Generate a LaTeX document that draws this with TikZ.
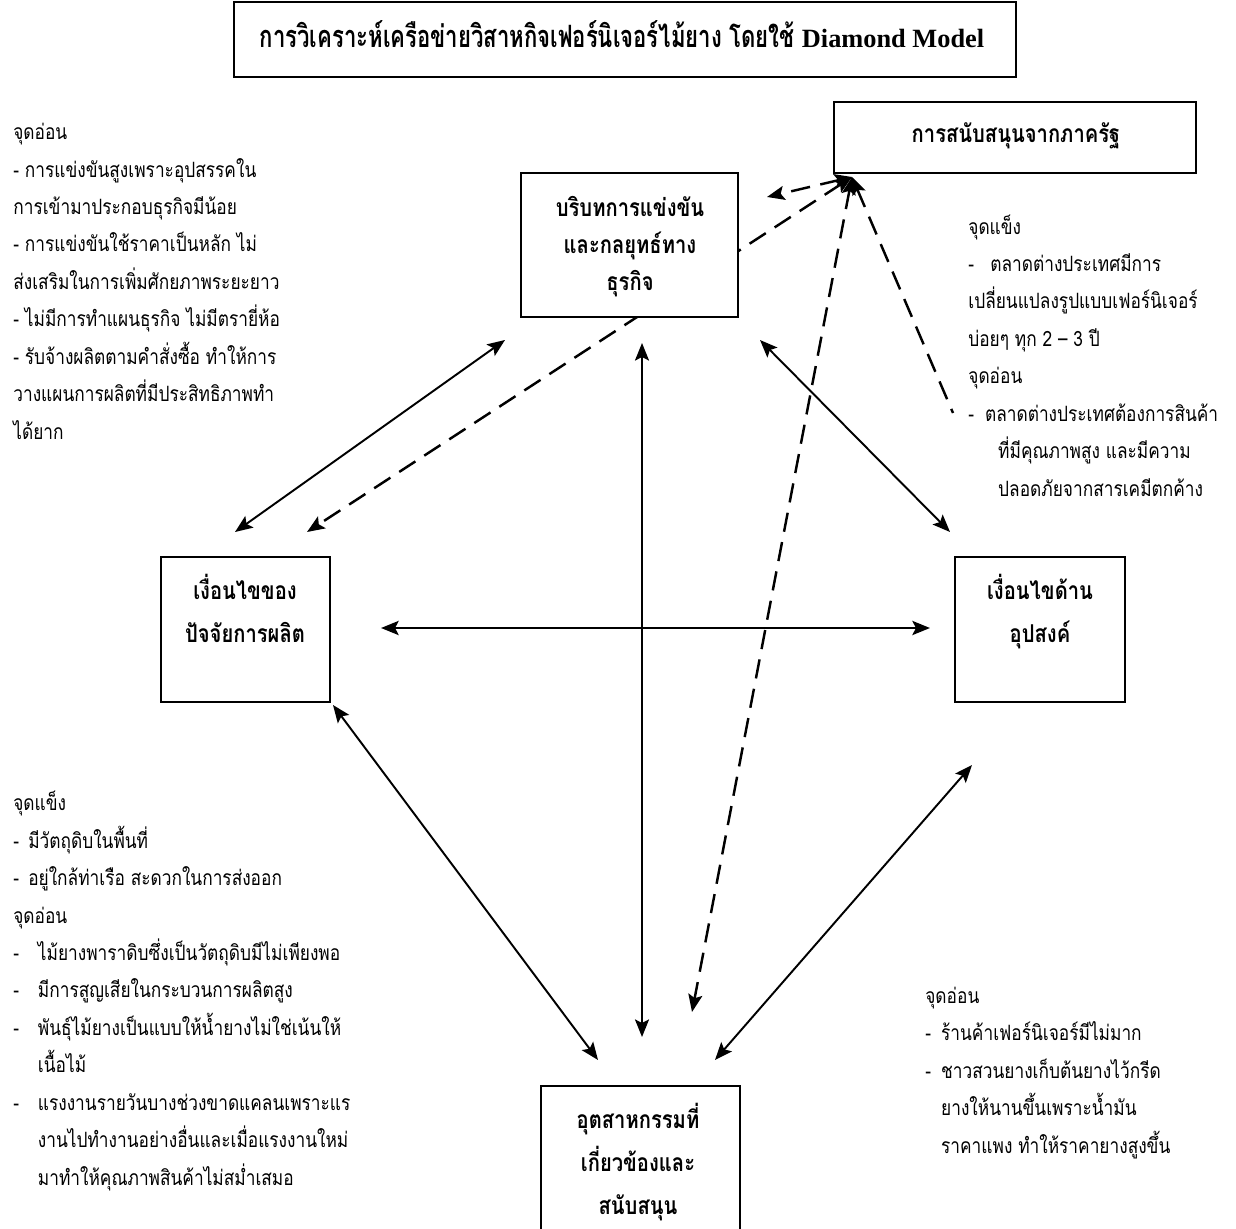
\documentclass[tikz,border=0pt]{standalone}
\usepackage{fontspec}
\newfontfamily\thai[Script=Thai,FakeStretch=0.82]{Loma}
\newfontfamily\thaiT[Script=Thai,FakeStretch=0.72]{Loma}
\newfontfamily\tms{Liberation Serif}
\usetikzlibrary{arrows.meta,fit,backgrounds}
\tikzset{
  box/.style={draw, line width=1.1pt, fill=white, inner sep=0pt},
  lbl/.style={font={\thai\bfseries\fontsize{14}{24.4}\selectfont\lineskiplimit=-40pt}, align=center, inner sep=0pt, anchor=base},
  body/.style={font={\thai\fontsize{12}{21.3}\selectfont\lineskiplimit=-40pt}, align=left, inner sep=0pt, anchor=base west},
  hd/.tip={Stealth[length=10pt,width=8pt,inset=2pt]},
  conn/.style={line width=1.1pt, hd-hd},
  dconn/.style={line width=1.4pt, dash pattern=on 11pt off 6pt},
}
\begin{document}
\begin{tikzpicture}[x=0.02cm,y=-0.02cm]
\useasboundingbox (0,0) rectangle (1236,1229);
% ---------- boxes (multi-line texts are placed by the baseline of their last line)
\node[box, fit={(234,2)(1016,77)}] (title) {};
\node[lbl, font={\thaiT\bfseries\fontsize{17.5}{20}\selectfont}] (titleT) at (622,48) {การวิเคราะห์เครือข่ายวิสาหกิจเฟอร์นิเจอร์ไม้ยาง โดยใช้ {\tms\bfseries\fontsize{15}{18}\selectfont Diamond Model}};

\node[box, fit={(834,102)(1196,173)}] (gov) {};
\node[lbl] (govT) at (1016,143) {การสนับสนุนจากภาครัฐ};

\node[box, fit={(521,173)(738,317)}] (comp) {};
\node[lbl, font={\thai\bfseries\fontsize{14}{21.3}\selectfont\lineskiplimit=-40pt}] (compT) at (630,291) {บริบทการแข่งขัน\\และกลยุทธ์ทาง\\ธุรกิจ};

\node[box, fit={(161,557)(330,702)}] (factor) {};
\node[lbl] (factorT) at (245,642) {เงื่อนไขของ\\ปัจจัยการผลิต};

\node[box, fit={(955,557)(1125,702)}] (demand) {};
\node[lbl] (demandT) at (1040,642) {เงื่อนไขด้าน\\อุปสงค์};

\draw[line width=1.1pt] (541,1240) -- (541,1086) -- (740,1086) -- (740,1240);
\coordinate (support) at (640,1086);
\node[lbl] (supportT) at (638,1214) {อุตสาหกรรมที่\\เกี่ยวข้องและ\\สนับสนุน};

% ---------- notes
\node[body] (noteTL) at (13,439) {จุดอ่อน\\
- การแข่งขันสูงเพราะอุปสรรคใน\\
การเข้ามาประกอบธุรกิจมีน้อย\\
- การแข่งขันใช้ราคาเป็นหลัก ไม่\\
ส่งเสริมในการเพิ่มศักยภาพระยะยาว\\
- ไม่มีการทำแผนธุรกิจ ไม่มีตรายี่ห้อ\\
- รับจ้างผลิตตามคำสั่งซื้อ ทำให้การ\\
วางแผนการผลิตที่มีประสิทธิภาพทำ\\
ได้ยาก};

\node[body] (noteTR) at (968,496) {จุดแข็ง\\
\makebox[12.5pt][l]{-}ตลาดต่างประเทศมีการ\\
เปลี่ยนแปลงรูปแบบเฟอร์นิเจอร์\\
บ่อยๆ ทุก 2 – 3 ปี\\
จุดอ่อน\\
\makebox[9.5pt][l]{-}ตลาดต่างประเทศต้องการสินค้า\\
\hspace*{17pt}ที่มีคุณภาพสูง และมีความ\\
\hspace*{17pt}ปลอดภัยจากสารเคมีตกค้าง};

\node[body] (noteBL) at (13,1185) {จุดแข็ง\\
\makebox[8.5pt][l]{-}มีวัตถุดิบในพื้นที่\\
\makebox[8.5pt][l]{-}อยู่ใกล้ท่าเรือ สะดวกในการส่งออก\\
จุดอ่อน\\
\makebox[14pt][l]{-}ไม้ยางพาราดิบซึ่งเป็นวัตถุดิบมีไม่เพียงพอ\\
\makebox[14pt][l]{-}มีการสูญเสียในกระบวนการผลิตสูง\\
\makebox[14pt][l]{-}พันธุ์ไม้ยางเป็นแบบให้น้ำยางไม่ใช่เน้นให้\\
\hspace*{14pt}เนื้อไม้\\
\makebox[14pt][l]{-}แรงงานรายวันบางช่วงขาดแคลนเพราะแร\\
\hspace*{14pt}งานไปทำงานอย่างอื่นและเมื่อแรงงานใหม่\\
\hspace*{14pt}มาทำให้คุณภาพสินค้าไม่สม่ำเสมอ};

\node[body] (noteBR) at (925,1153) {จุดอ่อน\\
\makebox[9pt][l]{-}ร้านค้าเฟอร์นิเจอร์มีไม่มาก\\
\makebox[9pt][l]{-}ชาวสวนยางเก็บต้นยางไว้กรีด\\
\hspace*{9pt}ยางให้นานขึ้นเพราะน้ำมัน\\
\hspace*{9pt}ราคาแพง ทำให้ราคายางสูงขึ้น};

% ---------- connector end points
\coordinate (hub) at (852,177);
\coordinate (cL) at (505,340);
\coordinate (cR) at (760,340);
\coordinate (cB) at (642,343);
\coordinate (cG) at (767,197);
\coordinate (fT) at (235,532);
\coordinate (fD) at (307,532);
\coordinate (fR) at (381,628);
\coordinate (fB) at (333,705);
\coordinate (dT) at (950,532);
\coordinate (dL) at (930,628);
\coordinate (dB) at (972,765);
\coordinate (sL) at (598,1060);
\coordinate (sT) at (642,1037);
\coordinate (sD) at (692,1012);
\coordinate (sR) at (715,1060);
\coordinate (dX) at (953,413);

% ---------- connectors (behind boxes)
\begin{scope}[on background layer]
\draw[conn] (cL) -- (fT);
\draw[conn] (cR) -- (dT);
\draw[conn] (cB) -- (sT);
\draw[conn, line width=1.5pt] (fR) -- (dL);
\draw[conn] (fB) -- (sL);
\draw[conn] (dB) -- (sR);
\draw[dconn, hd-hd] (hub) -- (cG);
\draw[dconn, hd-hd] (hub) -- (fD);
\draw[dconn, hd-hd] (hub) -- (sD);
\draw[dconn, hd-] (hub) -- (dX);
\end{scope}
\end{tikzpicture}
\end{document}
